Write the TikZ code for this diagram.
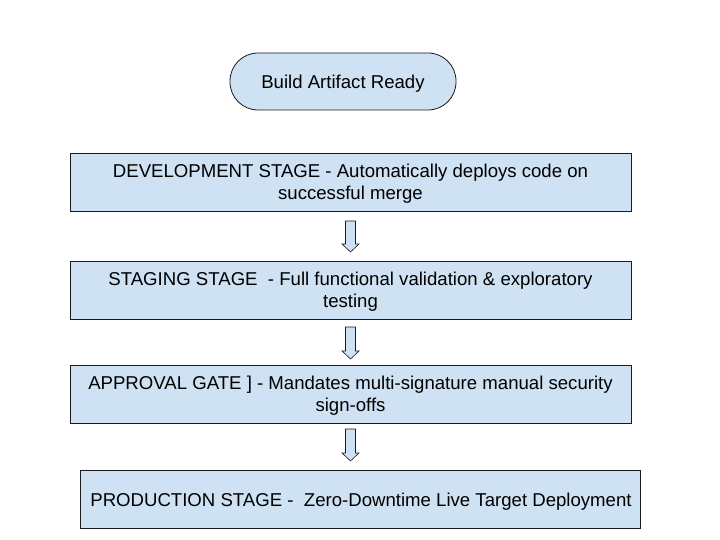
\documentclass[tikz,border=0pt]{standalone}
\usepackage{fontspec}
\setmainfont{Liberation Sans}
\definecolor{boxfill}{HTML}{CFE2F3}
\definecolor{edge}{HTML}{1A1A1A}
\newcommand\blockarrow[4]{% x, top, head base, tip
  \draw[arrowbody] (#1-5,#2) -- (#1+5,#2) -- (#1+5,#3) -- (#1+8.5,#3) -- (#1,#4) -- (#1-8.5,#3) -- (#1-5,#3) -- cycle;}
\newcommand\lowered[1]{\raisebox{-2.5pt}[\height][\depth]{#1}}
\newcommand\twolines[2]{\lowered{\begin{tabular}{@{}c@{}}#1\\#2\end{tabular}}}
\begin{document}
\begin{tikzpicture}[x=1pt,y=-1pt,
  stagebox/.style={draw=edge, fill=boxfill, line width=0.8pt, minimum height=58pt, align=center, inner sep=0pt, font=\fontsize{18.6}{22}\selectfont},
  startbox/.style={draw=edge, fill=boxfill, line width=0.8pt, rounded corners=28pt, minimum width=226pt, minimum height=57pt, font=\fontsize{18.6}{22}\selectfont},
  arrowbody/.style={draw=edge, fill=boxfill, line width=0.6pt, line join=miter}]
\useasboundingbox (0,0) rectangle (720,540);
\node[startbox] (start) at (343,81.5) {\lowered{Build Artifact Ready}};
\node[stagebox, minimum width=561pt] (dev) at (350.5,182) {\twolines{DEVELOPMENT STAGE - Automatically deploys code on}{successful merge}};
\node[stagebox, minimum width=561pt] (stg) at (350.5,290) {\twolines{STAGING STAGE\ \ - Full functional validation \& exploratory}{testing}};
\node[stagebox, minimum width=561pt] (apr) at (350.5,394) {\twolines{APPROVAL GATE ] - Mandates multi-signature manual security}{sign-offs}};
\node[stagebox, minimum width=560pt] (prd) at (360,499) {\hspace*{2pt}\lowered{PRODUCTION STAGE -\ \ Zero-Downtime Live Target Deployment}};
\blockarrow{350.5}{221}{244}{252}
\blockarrow{350.5}{327}{351}{359}
\blockarrow{350.5}{429}{453}{461}
\end{tikzpicture}
\end{document}
